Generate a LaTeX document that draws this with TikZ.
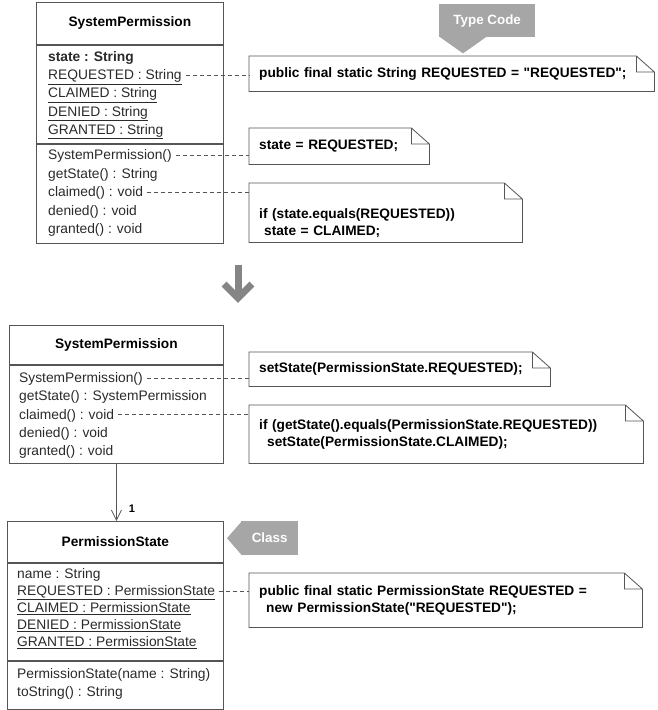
\documentclass[tikz,border=0pt]{standalone}
\usepackage{fontspec}
\setmainfont{Liberation Sans}
\usetikzlibrary{positioning,arrows.meta}

\definecolor{boxline}{HTML}{555555}
\definecolor{calloutgray}{HTML}{A6A6A6}
\definecolor{arrowgray}{HTML}{858585}
\definecolor{membertext}{HTML}{2A2A2A}

\tikzset{
    head/.style = {draw=boxline, line width=0.8pt, anchor=north west, inner sep=0pt,
                   font=\fontsize{13.7}{16}\selectfont\bfseries},
    part/.style = {draw=boxline, line width=0.8pt, anchor=north west, inner sep=0pt},
    member/.style = {anchor=west, inner sep=0pt, text height=10pt, text depth=1pt,
                     text=membertext, font=\fontsize{13.8}{16}\selectfont},
    note/.style = {anchor=north west, inner xsep=10pt, inner ysep=0pt, align=left,
                   font=\fontsize{13.7}{17}\selectfont\bfseries},
    link/.style = {draw=boxline, line width=0.7pt, dash pattern=on 4pt off 3pt, shorten <=4pt},
    callout/.style = {fill=calloutgray, text=white, inner sep=0pt, anchor=north west,
                      font=\fontsize{13.4}{16}\selectfont\bfseries},
    assoc/.style = {draw=boxline, line width=0.8pt, -{Straight Barb[length=10pt,width=10pt]}},
    bigarrow/.style = {draw=arrowgray, line width=7pt, line join=miter}
}

\begin{document}
\begin{tikzpicture}[x=1pt, y=-1pt]
    \useasboundingbox (0,0) rectangle (658,710);

    % class before the refactoring
    \node[head, minimum width=187pt, minimum height=42pt] (spold) at (36,2) {SystemPermission};
    \node[part, minimum width=187pt, minimum height=98pt] (spoldattr) at (spold.south west) {};
    \node[part, minimum width=187pt, minimum height=99pt] (spoldmeth) at (spoldattr.south west) {};
    \foreach \txt [count=\i] in {\textbf{state : String}, \underline{REQUESTED : String},
        \underline{CLAIMED : String}, \underline{DENIED : String}, \underline{GRANTED : String}}
        \node[member] (spolda\i) at (48, 38.8+18.2*\i) {\txt};
    \foreach \txt [count=\i] in {SystemPermission(), getState() : String, claimed() : void,
        denied() : void, granted() : void}
        \node[member] (spoldm\i) at (48, 136.5+18.5*\i) {\txt};

    % class after the refactoring
    \node[head, minimum width=214pt, minimum height=39pt] (spnew) at (9,325) {SystemPermission};
    \node[part, minimum width=214pt, minimum height=98pt] (spnewmeth) at (spnew.south west) {};
    \foreach \txt [count=\i] in {SystemPermission(), getState() : SystemPermission,
        claimed() : void, denied() : void, granted() : void}
        \node[member] (spnewm\i) at (19, 359.75+18.25*\i) {\txt};

    \node[head, minimum width=216pt, minimum height=41pt] (ps) at (7,521) {PermissionState};
    \node[part, minimum width=216pt, minimum height=97pt] (psattr) at (ps.south west) {};
    \node[part, minimum width=216pt, minimum height=48pt] (psmeth) at (psattr.south west) {};
    \foreach \txt [count=\i] in {name : String, \underline{REQUESTED : PermissionState},
        \underline{CLAIMED : PermissionState}, \underline{DENIED : PermissionState},
        \underline{GRANTED : PermissionState}}
        \node[member] (psa\i) at (17, 557+17*\i) {\txt};
    \foreach \txt [count=\i] in {PermissionState(name : String), toString() : String}
        \node[member] (psm\i) at (17, 656+18*\i) {\txt};

    % notes
    \node[note, text width=385pt, minimum height=35pt] (typenote) at (249,56)
        {public final static String REQUESTED = \textquotedbl REQUESTED\textquotedbl;};
    \node[note, text width=160pt, minimum height=36pt] (initnote) at (249,128)
        {state = REQUESTED;};
    \node[note, text width=253pt, minimum height=59pt] (claimnote) at (249,183)
        {\rule{0pt}{30pt}if (state.equals(REQUESTED))\\\hspace*{5pt}state = CLAIMED;};
    \node[note, text width=281pt, minimum height=34pt] (setnote) at (249,352)
        {setState(PermissionState.REQUESTED);};
    \node[note, text width=374pt, minimum height=58pt] (getnote) at (249,405)
        {if (getState().equals(PermissionState.REQUESTED))\\\hspace*{8pt}setState(PermissionState.CLAIMED);};
    \node[note, text width=373pt, minimum height=54pt] (constnote) at (249,573)
        {public final static PermissionState REQUESTED =\\\hspace*{7pt}new PermissionState(\textquotedbl REQUESTED\textquotedbl);};

    \foreach \n in {typenote, initnote, claimnote, setnote, getnote, constnote}
        \draw[boxline, line width=0.8pt]
            (\n.south west) -- (\n.north west) -- ([xshift=-18pt]\n.north east)
            -- ([yshift=-16pt]\n.north east) -- (\n.south east) -- cycle
            ([xshift=-18pt]\n.north east) |- ([yshift=-16pt]\n.north east);

    % dashed links to the notes
    \draw[link] (spolda2.east) -- (spolda2 -| typenote.west);
    \draw[link] (spoldm1.east) -- (spoldm1 -| initnote.west);
    \draw[link] (spoldm3.east) -- (spoldm3 -| claimnote.west);
    \draw[link] (spnewm1.east) -- (spnewm1 -| setnote.west);
    \draw[link] (spnewm3.east) -- (spnewm3 -| getnote.west);
    \draw[link] (psa2.east) -- (psa2 -| constnote.west);

    % association
    \draw[assoc] (spnewmeth.south) -- (spnewmeth.south |- ps.north)
        node[pos=1, anchor=south west, inner sep=0pt, xshift=12pt, yshift=8pt,
             font=\fontsize{11}{13}\selectfont\bfseries] (mult) {1};

    % refactoring arrow
    \coordinate (shafttop) at (238,265);
    \coordinate (arrowtip) at (238,298);
    \draw[bigarrow] (shafttop) -- (arrowtip);
    \draw[bigarrow] ([xshift=-14pt,yshift=14pt]arrowtip) -- (arrowtip) -- ([xshift=14pt,yshift=14pt]arrowtip);

    % callouts
    \node[callout, minimum width=96pt, minimum height=33pt] (typecode) at (439,4) {Type Code};
    \fill[calloutgray] ([yshift=1pt]typecode.south west) -- ([xshift=48pt,yshift=1pt]typecode.south west)
        -- ([xshift=24pt,yshift=-16pt]typecode.south west) -- cycle;
    \node[callout, minimum width=57pt, minimum height=34pt] (classtag) at (241,521) {Class};
    \fill[calloutgray] ([xshift=1pt]classtag.north west) -- ([xshift=-14pt]classtag.west)
        -- ([xshift=1pt]classtag.south west) -- cycle;
\end{tikzpicture}
\end{document}
